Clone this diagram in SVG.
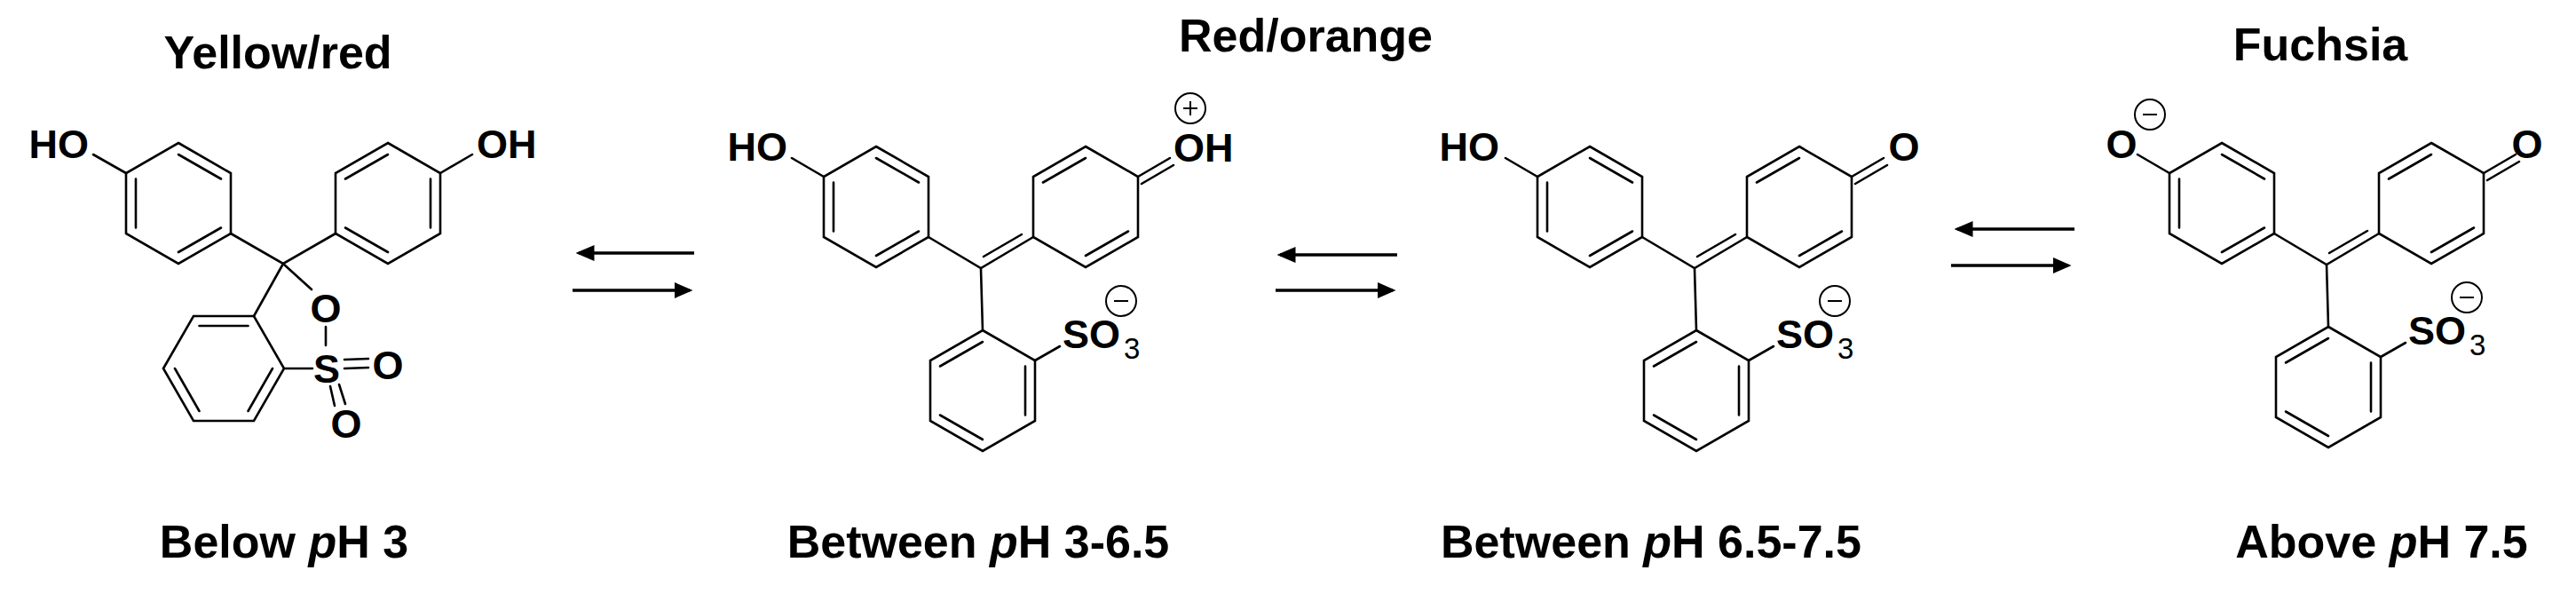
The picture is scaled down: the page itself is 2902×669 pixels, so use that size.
<svg xmlns="http://www.w3.org/2000/svg" width="2902" height="669" viewBox="0 0 2902 669">
<style>
.b{stroke:#000;stroke-width:2.6;fill:none;stroke-linecap:round;stroke-linejoin:miter}
.a{font-family:"Liberation Sans",Arial,sans-serif;font-weight:bold;font-size:45px;fill:#000}
.s{font-family:"Liberation Sans",Arial,sans-serif;font-size:33px;fill:#000}
.t{font-family:"Liberation Sans",Arial,sans-serif;font-weight:bold;font-size:52px;fill:#000;text-anchor:middle}
.c{stroke:#000;stroke-width:2;fill:none}
.ar{stroke:#000;stroke-width:3.5;fill:none}
</style>
<defs>
<marker id="h" markerWidth="6" markerHeight="6" refX="5" refY="3" orient="auto" markerUnits="strokeWidth"><path d="M0,0.4 L6,3 L0,5.6 Z" fill="#000"/></marker>
<g id="core">
<polygon class="b" points="987,165 1046,199 1046,267 987,301 928,267 928,199"/>
<path class="b" d="M987,178 L1035,205.5 M939,205.5 L939,260.5 M1035,260.5 L987,288"/>
<path class="b" d="M1046,267 L1105,302 L1164,267 M1108,289 L1151,264 M1105,302 L1107,372"/>
<polygon class="b" points="1223,165 1282,199 1282,267 1223,301 1164,267 1164,199"/>
<path class="b" d="M1175,205.5 L1223,178 M1223,288 L1271,260.5"/>
<path class="b" d="M1282,199 L1318,178 M1286,207 L1322,186"/>
<polygon class="b" points="1107,372 1166,406 1166,474 1107,508 1048,474 1048,406"/>
<path class="b" d="M1059,412.5 L1107,385 M1155,412.5 L1155,467.5 M1059,467.5 L1107,495"/>
<path class="b" d="M1166,406 L1194,390 M928,199 L892,178"/>
<text class="a" x="1197" y="392">SO</text><text class="s" x="1266" y="404">3</text>
<circle class="c" cx="1263" cy="339" r="17"/><path class="c" d="M1255,339 H1271"/>
</g>
</defs>
<g id="mol1">
<polygon class="b" points="201,161 260,195 260,263 201,297 142,263 142,195"/>
<path class="b" d="M201,174 L249,201.5 M153,201.5 L153,256.5 M249,256.5 L201,284"/>
<polygon class="b" points="437,161 496,195 496,263 437,297 378,263 378,195"/>
<path class="b" d="M389,201.5 L437,174 M485,201.5 L485,256.5 M389,256.5 L437,284"/>
<path class="b" d="M260,263 L319,297 L378,263 M319,297 L286,356 M319,297 L351,326 M142,195 L105,174 M496,195 L532,174"/>
<polygon class="b" points="184,415 218,356 286,356 320,415 286,474 218,474"/>
<path class="b" d="M224.5,367 L279.5,367 M197,415 L224.5,463 M279.5,463 L307,415"/>
<path class="b" d="M367,368 L367,389 M320,415 L352,415 M388,405 L415,404 M388,415 L415,414 M372,435 L377,457 M382,433 L389,455"/>
<text class="a" x="100" y="178" text-anchor="end">HO</text>
<text class="a" x="537" y="178">OH</text>
<text class="a" x="367" y="363" text-anchor="middle">O</text>
<text class="a" x="368" y="431" text-anchor="middle">S</text>
<text class="a" x="437" y="427" text-anchor="middle">O</text>
<text class="a" x="390" y="493" text-anchor="middle">O</text>
</g>
<g id="mol2">
<use href="#core"/>
<text class="a" x="887" y="181" text-anchor="end">HO</text>
<text class="a" x="1322" y="182">OH</text>
<circle class="c" cx="1341" cy="122" r="17"/><path class="c" d="M1333,122 H1349 M1341,114 V130"/>
</g>
<g id="mol3" transform="translate(804,0)">
<use href="#core"/>
<text class="a" x="885" y="181" text-anchor="end">HO</text>
<text class="a" x="1341" y="181" text-anchor="middle">O</text>
</g>
<g id="mol4" transform="translate(1516,-4)">
<use href="#core"/>
<text class="a" x="874" y="182" text-anchor="middle">O</text>
<circle class="c" cx="906" cy="133" r="17"/><path class="c" d="M898,133 H914"/>
<text class="a" x="1331" y="182" text-anchor="middle">O</text>
</g>
<g id="connectors">
<path class="ar" d="M782,285 H652" marker-end="url(#h)"/>
<path class="ar" d="M645,327 H777" marker-end="url(#h)"/>
<path class="ar" d="M1574,287 H1442" marker-end="url(#h)"/>
<path class="ar" d="M1437,327 H1569" marker-end="url(#h)"/>
<path class="ar" d="M2337,258 H2205" marker-end="url(#h)"/>
<path class="ar" d="M2198,299 H2330" marker-end="url(#h)"/>
</g>
<g id="labels">
<text class="t" x="313" y="77">Yellow/red</text>
<text class="t" x="1471" y="58">Red/orange</text>
<text class="t" x="2614" y="68">Fuchsia</text>
<text class="t" x="320" y="628">Below <tspan font-style="italic">p</tspan>H 3</text>
<text class="t" x="1102" y="628">Between <tspan font-style="italic">p</tspan>H 3-6.5</text>
<text class="t" x="1860" y="628">Between <tspan font-style="italic">p</tspan>H 6.5-7.5</text>
<text class="t" x="2683" y="628">Above <tspan font-style="italic">p</tspan>H 7.5</text>
</g>
</svg>
